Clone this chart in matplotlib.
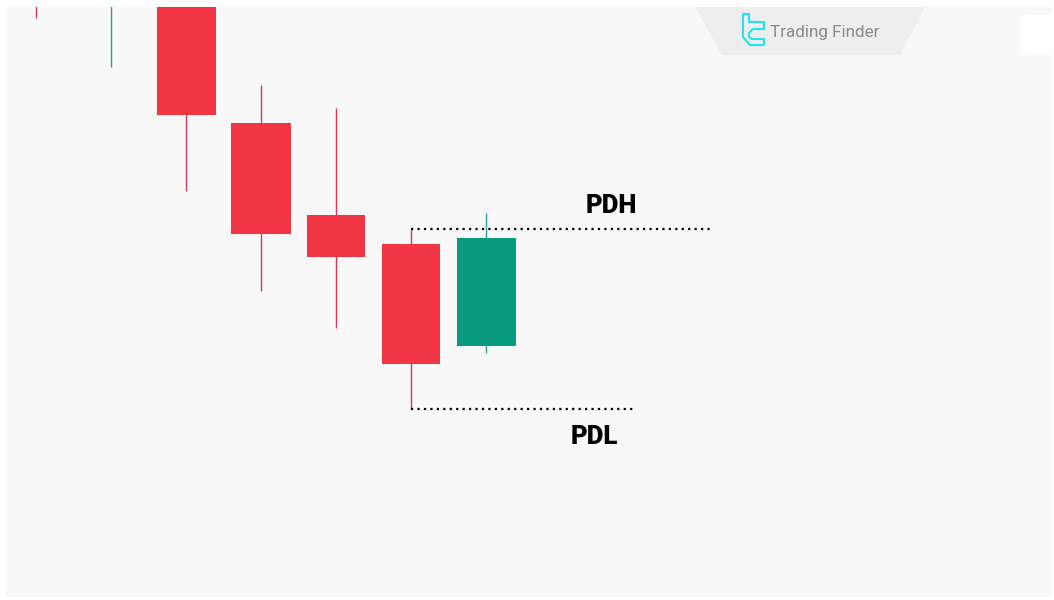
import matplotlib
matplotlib.use("Agg")
import matplotlib.pyplot as plt
from matplotlib.patches import Polygon, FancyBboxPatch, Rectangle

# ---- data (price units) ----
opens  = [640, 620, 640, 477, 385, 356, 254]
closes = [605, 680, 485, 366, 343, 236, 362]
highs  = [660, 700, 650, 515, 492, 371, 387]
lows   = [582, 533, 409, 309, 272, 191, 247]
pdh = 371
pdl = 191
labels = ["PDH", "PDL"]

UP = "#089981"
DOWN = "#F23645"
W, H = 1054, 600

fig = plt.figure(figsize=(W / 100, H / 100), dpi=100, facecolor="white")

# main chart axes (pixel panel 6..1052 x, 7..597 y)
ax = fig.add_axes([6 / W, 3 / H, 1046 / W, 590 / H])
ax.set_facecolor("#f8f8f8")
ax.set_xlim((6 - 36) / 75, (1052 - 36) / 75)
ax.set_ylim(3, 593)
for s in ax.spines.values():
    s.set_visible(False)
ax.set_xticks([])
ax.set_yticks([])

bw = 59 / 75
for i, (o, c, h, l) in enumerate(zip(opens, closes, highs, lows)):
    col = UP if c >= o else DOWN
    wick = "#2aa192" if c >= o else "#d13a5c"
    ax.vlines(i, l, h, color=wick, lw=1.0, zorder=1)
    ax.add_patch(Rectangle((i - bw / 2, min(o, c)), bw, abs(c - o),
                           facecolor=col, edgecolor="none", zorder=2))

# PDH / PDL dotted levels starting from candle index 5
ax.plot([5, 5 + (710 - 411) / 75], [pdh, pdh], color="black",
        lw=1.6, ls=(0, (1, 1.9)), zorder=3)
ax.plot([5, 5 + (633 - 411) / 75], [pdl, pdl], color="black",
        lw=1.6, ls=(0, (1, 1.9)), zorder=3)
ax.text((611 - 36) / 75, pdh + 23, labels[0], ha="center", va="center",
        fontsize=18.5, fontweight="heavy", family="Roboto", color="black")
ax.text((594 - 36) / 75, pdl - 28, labels[1], ha="center", va="center",
        fontsize=18.5, fontweight="heavy", family="Roboto", color="black")

# overlay for watermark decorations in pixel coordinates
ov = fig.add_axes([0, 0, 1, 1], facecolor="none")
ov.set_xlim(0, W)
ov.set_ylim(H, 0)
ov.axis("off")
ov.add_patch(Polygon([(695, 7), (925, 7), (900, 55), (722, 55)],
                     closed=True, facecolor="#eeeeee", edgecolor="none"))
ov.text(770, 32, "Trading Finder", fontsize=12.3, color="#8a8a8a",
        ha="left", va="center", family="Roboto")
cy = "#22e3ee"
icon = [(743, 14), (749, 14), (749, 22), (764, 22), (764, 29), (753, 29),
        (749, 33), (749, 37), (752, 39), (764, 39), (764, 45), (750, 45),
        (743, 37), (743, 14)]
ov.add_patch(Polygon(icon, closed=True, facecolor="none", edgecolor=cy,
                     lw=1.5, joinstyle="round"))
ov.add_patch(FancyBboxPatch((1020, 15), 40, 40,
                            boxstyle="round,pad=0,rounding_size=8",
                            facecolor="white", edgecolor="none"))

fig.savefig("out.png", dpi=100, facecolor="white")
